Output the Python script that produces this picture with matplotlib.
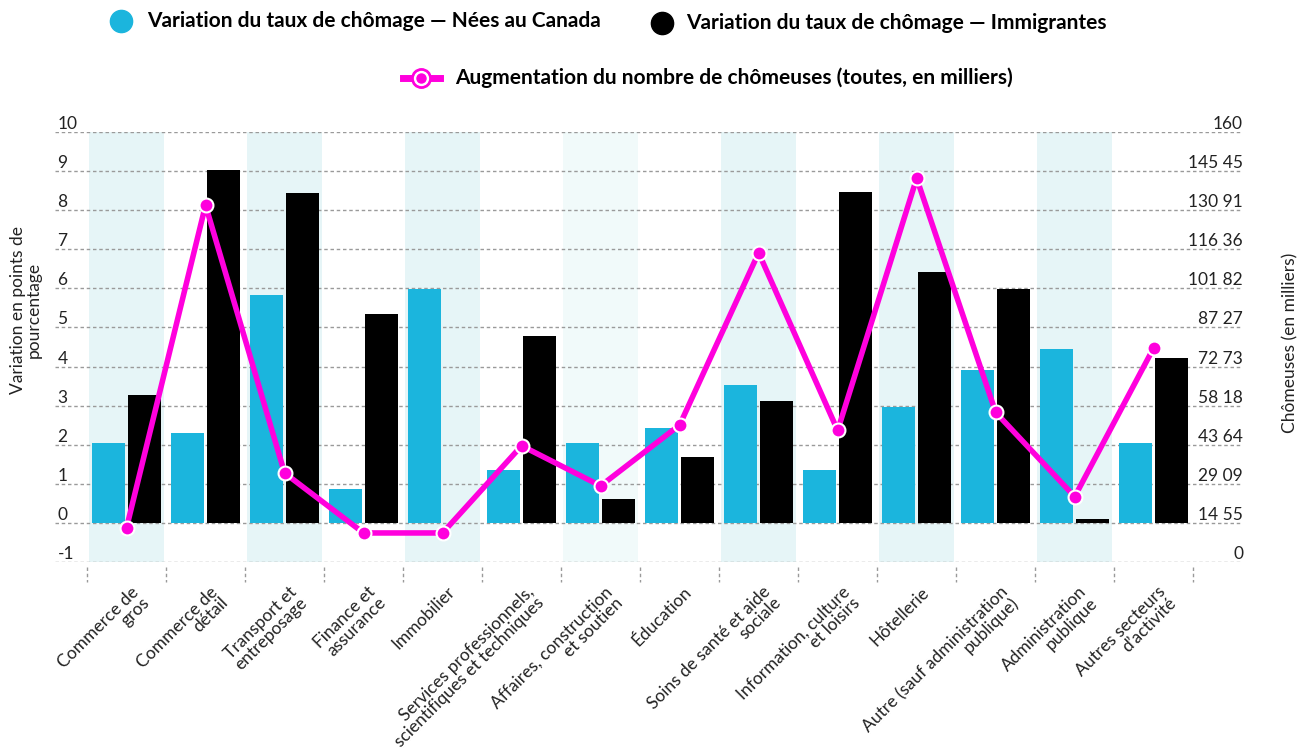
import numpy as np
import matplotlib
matplotlib.use('Agg')
import matplotlib.pyplot as plt
import matplotlib.transforms as mtransforms
from matplotlib.lines import Line2D

plt.rcParams['font.family'] = ['Lato', 'DejaVu Sans']

# Data
categories = ["Commerce de\ngros", "Commerce de\ndétail", "Transport et\nentreposage",
              "Finance et\nassurance", "Immobilier",
              "Services professionnels,\nscientifiques et techniques",
              "Affaires, construction\net soutien", "Éducation",
              "Soins de santé et aide\nsociale", "Information, culture\net loisirs",
              "Hôtellerie", "Autre (sauf administration\npublique)",
              "Administration\npublique", "Autres secteurs\nd’activité"]
nees_canada = [2.05, 2.30, 5.83, 0.87, 5.98, 1.36, 2.05, 2.44, 3.54, 1.36, 2.98, 3.92, 4.45, 2.05]
immigrantes = [3.27, 9.03, 8.44, 5.35, 0.0, 4.79, 0.62, 1.69, 3.13, 8.45, 6.42, 5.98, 0.11, 4.21]
chomeuses = [12.8, 132.7, 33.2, 10.9, 10.9, 43.3, 28.4, 51.0, 115.0, 49.0, 142.7, 55.7, 24.4, 79.7]

left_ticks = list(range(-1, 11))
right_ticks = [0, 14.55, 29.09, 43.64, 58.18, 72.73, 87.27, 101.82, 116.36, 130.91, 145.45, 160]
right_labels = ["0", "14 55", "29 09", "43 64", "58 18", "72 73", "87 27",
                "101 82", "116 36", "130 91", "145 45", "160"]

BLUE = '#1bb5dd'
BLACK = '#000000'
PINK = '#ff00dd'
BAND = '#e6f5f7'
GRID = '#9a9a9a'
TXT = '#222222'

W, H = 1308, 749
fig = plt.figure(figsize=(W / 100, H / 100), dpi=100)
ax = fig.add_axes([55 / W, 1 - 562.3 / H, (1243 - 55) / W, (562.3 - 131.7) / H])
ax2 = ax.twinx()

x = np.arange(len(categories))
ax.set_xlim(-0.905, 14.13)
ax.set_ylim(-1, 10)
ax2.set_ylim(0, 160)

# alternating bands
for i in x:
    if i % 2 == 0:
        c = '#f1fafa' if i == 6 else BAND
        ax.axvspan(i - 0.475, i + 0.475, color=c, zorder=0, lw=0)

# grid lines
for t in left_ticks:
    ax.axhline(t, color=GRID, lw=1, ls=(0, (2.5, 2)), zorder=1)

bw = 0.42
ax.bar(x - 0.23, nees_canada, bw, color=BLUE, zorder=2)
ax.bar(x + 0.23, immigrantes, bw, color=BLACK, zorder=2)

ax2.plot(x, chomeuses, color=PINK, lw=4, zorder=3, solid_joinstyle='round')
ax2.plot(x, chomeuses, 'o', ms=10, color=PINK, mec='white', mew=1.5, zorder=4)

for a in (ax, ax2):
    for s in a.spines.values():
        s.set_visible(False)
    a.set_yticks([])
    a.tick_params(length=0)

# tick labels placed above grid lines
tl = mtransforms.blended_transform_factory(ax.transAxes, ax.transData)
for t in left_ticks:
    ax.text(0.002, t, str(t), transform=tl, ha='left', va='bottom',
            fontsize=12.5, color=TXT)
tr = mtransforms.blended_transform_factory(ax2.transAxes, ax2.transData)
for t, lab in zip(right_ticks, right_labels):
    ax2.text(1.0, t, lab, transform=tr, ha='right', va='bottom',
             fontsize=12.5, color=TXT)

# x labels and dashed boundary ticks
ax.set_xticks([])
tb = mtransforms.blended_transform_factory(ax.transData, ax.transAxes)
for b in np.arange(-0.5, len(categories), 1.0):
    ax.plot([b, b], [-0.01, -0.045], transform=tb, color=GRID, lw=1,
            ls=(0, (2.5, 2)), clip_on=False)
for i, lab in enumerate(categories):
    ax.text(i + 0.05, -0.05, lab, transform=tb, rotation=45, ha='right', va='top',
            rotation_mode='anchor', fontsize=12.5, color=TXT, linespacing=0.92)

fig.text(26 / W, 1 - 310 / H, "Variation en points de\npourcentage", rotation=90,
         ha='center', va='center', fontsize=12.5, color=TXT, linespacing=0.95)
fig.text(1290 / W, 1 - 343 / H, "Chômeuses (en milliers)", rotation=90,
         ha='center', va='center', fontsize=12.5, color=TXT)

# legend
def fx(px):
    return px / W

def fy(py):
    return 1 - py / H

fig.add_artist(Line2D([fx(121)], [fy(21)], marker='o', ms=16, color=BLUE,
                      transform=fig.transFigure))
fig.text(fx(147), fy(21), "Variation du taux de chômage — Nées au Canada",
         ha='left', va='center', fontsize=15, fontweight='bold', color='black')
fig.add_artist(Line2D([fx(662)], [fy(23)], marker='o', ms=16, color=BLACK,
                      transform=fig.transFigure))
fig.text(fx(686), fy(23), "Variation du taux de chômage — Immigrantes",
         ha='left', va='center', fontsize=15, fontweight='bold', color='black')
fig.add_artist(Line2D([fx(403), fx(440)], [fy(78), fy(78)], lw=5, color=PINK,
                      transform=fig.transFigure))
fig.add_artist(Line2D([fx(421)], [fy(78)], marker='o', ms=14, color=PINK,
                      transform=fig.transFigure))
fig.add_artist(Line2D([fx(421)], [fy(78)], marker='o', ms=10, color='white',
                      transform=fig.transFigure))
fig.add_artist(Line2D([fx(421)], [fy(78)], marker='o', ms=6.5, color=PINK,
                      transform=fig.transFigure))
fig.text(fx(455), fy(78), "Augmentation du nombre de chômeuses (toutes, en milliers)",
         ha='left', va='center', fontsize=15, fontweight='bold', color='black')

fig.savefig('out.png', dpi=100)
